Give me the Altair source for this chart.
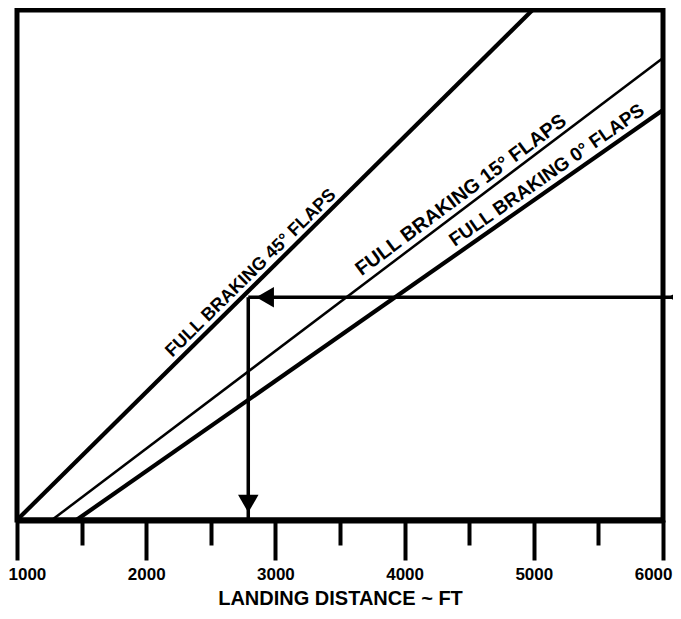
import altair as alt
import pandas as pd

# ---- data ----
flaps = ["45°", "15°", "0°"]
dist_start = [1000, 1270, 1460]      # landing distance where each line leaves the baseline
dist_end = [4990, 6000, 6000]        # landing distance at the line's upper end
level_start = [0, 0, 0]              # vertical (unlabelled) scale, 0..100
level_end = [100, 90.6, 80.4]

tick_values = [1000, 1500, 2000, 2500, 3000, 3500, 4000, 4500, 5000, 5500, 6000]

example_dist = 2790                  # read-off example (arrows)
example_level = 43.7
arrow_far = 6300

label_texts = ["FULL BRAKING 45° FLAPS", "FULL BRAKING 15° FLAPS", "FULL BRAKING 0° FLAPS"]
label_dist = [2811, 4437, 5100]
label_level = [48.4, 63.7, 67.6]
label_angles = [315.5, 323.5, 325]
label_sizes = [18, 20, 19]

# ---- tables ----
rows = []
for f, x0, x1, y0, y1 in zip(flaps, dist_start, dist_end, level_start, level_end):
    rows.append({"flaps": f, "dist": x0, "level": y0})
    rows.append({"flaps": f, "dist": x1, "level": y1})
lines_df = pd.DataFrame(rows)

xs = alt.Scale(domain=[1000, 6000], nice=False, zero=False)
ys = alt.Scale(domain=[0, 100], nice=False, zero=False)

x_axis = alt.Axis(
    values=tick_values,
    format="d",
    labelExpr="datum.value % 1000 == 0 ? datum.label : ''",
    tickSize={"condition": {"test": "datum.value % 1000 != 0", "value": 25}, "value": 40},
    tickWidth=4,
    tickColor="black",
    domainWidth=6,
    domainColor="black",
    labelFont="Liberation Sans",
    labelFontSize=17,
    labelFontWeight="bold",
    labelColor="black",
    labelPadding=6,
    labelFlush=True,
    labelFlushOffset=9,
    labelOverlap=False,
    grid=False,
    title="LANDING DISTANCE ~ FT",
    titleFont="Liberation Sans",
    titleFontSize=20,
    titleFontWeight="bold",
    titleColor="black",
    titlePadding=6,
)


def X(field):
    return alt.X(field, type="quantitative", scale=xs, axis=x_axis)


def Y(field):
    return alt.Y(field, type="quantitative", scale=ys, axis=None)


lines = alt.Chart(lines_df).mark_line(color="black").encode(
    x=X("dist"),
    y=Y("level"),
    detail="flaps:N",
    strokeWidth=alt.condition("datum.flaps == '15°'", alt.value(2.5), alt.value(4.2)),
)

ex_df = pd.DataFrame({"dist": [example_dist], "level": [example_level], "far": [arrow_far], "zero": [0]})

h_rule = alt.Chart(ex_df).mark_rule(color="black", strokeWidth=3.5).encode(
    x=X("dist"), x2="far", y=Y("level")
)
v_rule = alt.Chart(ex_df).mark_rule(color="black", strokeWidth=3.5).encode(
    x=X("dist"), y=Y("zero"), y2="level"
)

head_left_df = pd.DataFrame({"dist": [example_dist + 130, 6110], "level": [example_level] * 2})
head_left = alt.Chart(head_left_df).mark_point(
    shape="triangle-left", filled=True, color="black", opacity=1, size=420
).encode(x=X("dist"), y=Y("level"))

head_down_df = pd.DataFrame({"dist": [example_dist], "level": [3.2]})
head_down = alt.Chart(head_down_df).mark_point(
    shape="triangle-down", filled=True, color="black", opacity=1, size=420
).encode(x=X("dist"), y=Y("level"))

texts = []
for t, xd, yl, ang, fs in zip(label_texts, label_dist, label_level, label_angles, label_sizes):
    df = pd.DataFrame({"text": [t], "dist": [xd], "level": [yl]})
    texts.append(
        alt.Chart(df).mark_text(
            angle=ang, font="Liberation Sans", fontSize=fs, fontWeight="bold",
            color="black", align="center", baseline="middle"
        ).encode(x=X("dist"), y=Y("level"), text="text:N")
    )

chart = alt.layer(lines, h_rule, v_rule, head_left, head_down, *texts).properties(
    width=646,
    height=510,
    autosize=alt.AutoSizeParams(type="none"),
    padding={"left": 9, "right": 10, "top": 2, "bottom": 91},
    background="white",
).configure_view(stroke="black", strokeWidth=5)

chart.save("out.html", embed_options={"renderer": "svg", "actions": False})
